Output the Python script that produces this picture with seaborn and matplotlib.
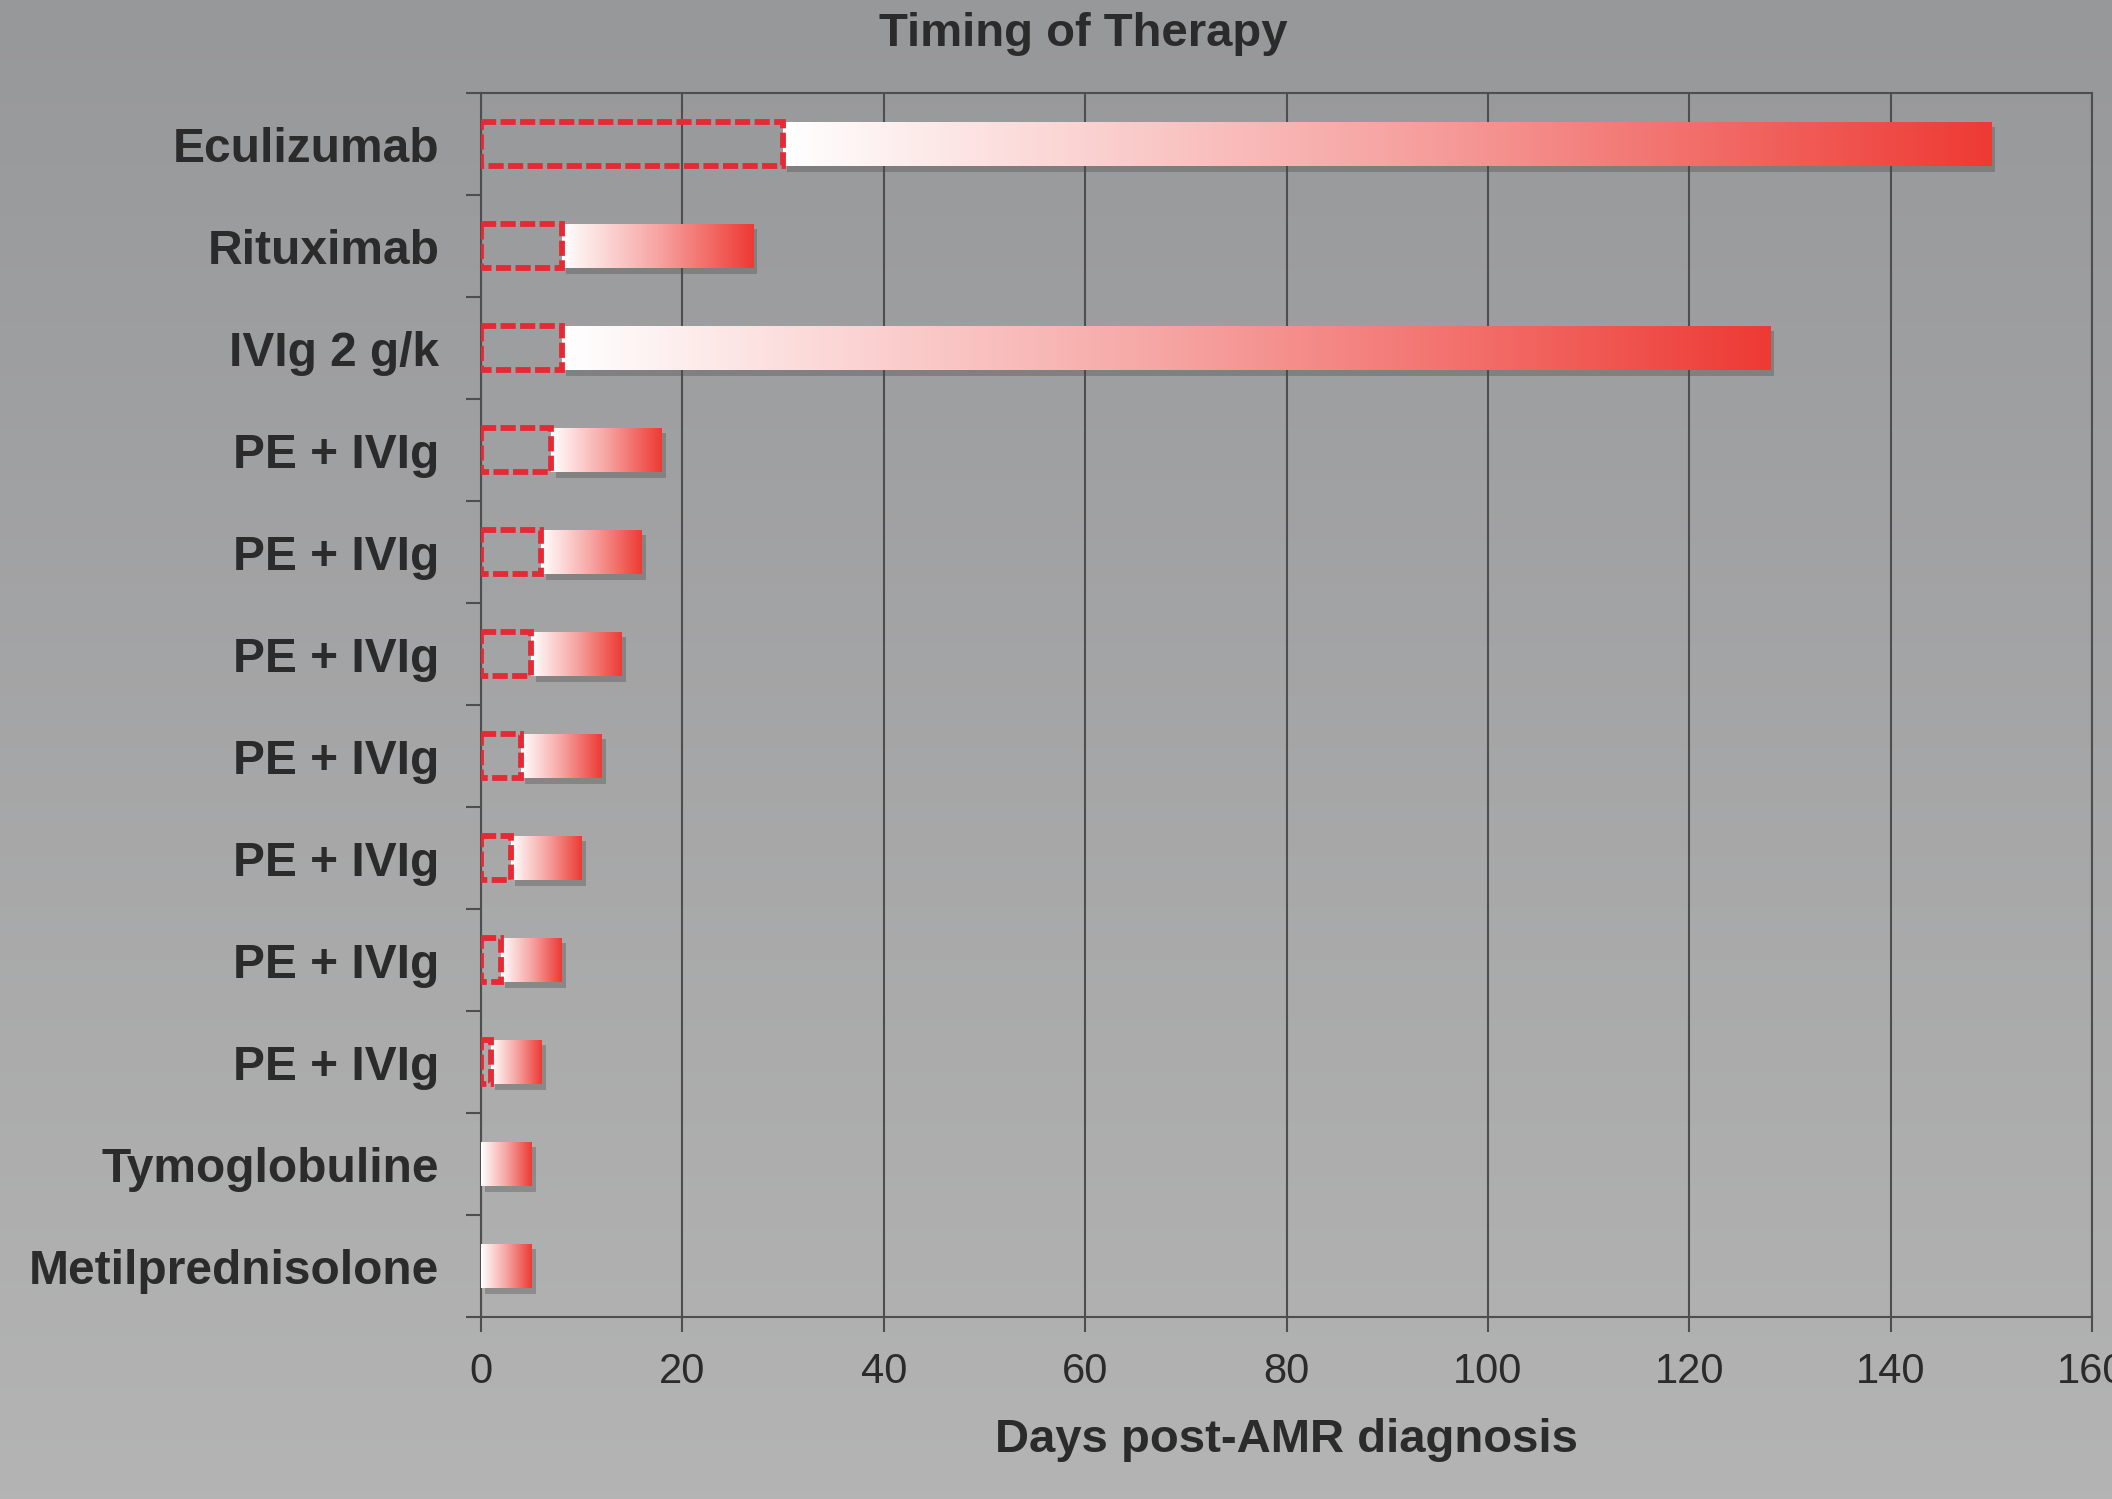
import numpy as np
import pandas as pd
import matplotlib
matplotlib.use("Agg")
import matplotlib.pyplot as plt
import seaborn as sns
from matplotlib.colors import LinearSegmentedColormap
from matplotlib import patheffects as pe

# Treatment rows, top to bottom
therapies = [
    "Eculizumab", "Rituximab", "IVIg 2 g/k",
    "PE + IVIg", "PE + IVIg", "PE + IVIg", "PE + IVIg",
    "PE + IVIg", "PE + IVIg", "PE + IVIg",
    "Tymoglobuline", "Metilprednisolone",
]
# Day the therapy started and day it ended (days post-AMR diagnosis)
start_day = [30, 8, 8, 7, 6, 5, 4, 3, 2, 1, 0, 0]
end_day = [150, 27, 128, 18, 16, 14, 12, 10, 8, 6, 5, 5]
x_ticks = [0, 20, 40, 60, 80, 100, 120, 140, 160]

title_text = "Timing of Therapy"
x_label = "Days post-AMR diagnosis"

sns.set_style("ticks")
plt.rcParams["font.family"] = ["Liberation Sans", "DejaVu Sans"]

TEXT = "#2b2b2b"
LINE = "#4e4e4e"
RED = "#ee3a34"
DASH_RED = "#e52a35"

df = pd.DataFrame({
    "row": [f"r{i}" for i in range(len(therapies))],
    "therapy": therapies,
    "start": start_day,
    "end": end_day,
})
df["duration"] = df["end"] - df["start"]
order = list(df["row"])

fig = plt.figure(figsize=(21.12, 14.99), dpi=100)

# grey vertical backdrop
bg = fig.add_axes([0, 0, 1, 1], zorder=-10)
bg_cmap = LinearSegmentedColormap.from_list("bg", ["#97989a", "#b4b4b4"])
bg.imshow(np.linspace(0, 1, 256).reshape(-1, 1), aspect="auto", cmap=bg_cmap,
          extent=(0, 1, 0, 1), origin="upper")
bg.set_axis_off()

ax = fig.add_axes([481 / 2112, 1 - 1317 / 1499, (2092 - 481) / 2112, (1317 - 93) / 1499])
ax.patch.set_alpha(0)

BAR_H = 0.44

# treatment period bars (start -> end)
sns.barplot(data=df, x="duration", y="row", order=order, orient="h",
            left=df["start"].to_numpy(), width=BAR_H, color=RED,
            errorbar=None, ax=ax, zorder=3, linewidth=0)
period_bars = list(ax.patches)

# waiting period before therapy (0 -> start), dashed outline
sns.barplot(data=df, x="start", y="row", order=order, orient="h",
            width=BAR_H, fill=False, color=DASH_RED, errorbar=None, ax=ax,
            linewidth=4.2, linestyle=(0, (2.6, 0.75)), zorder=5)
wait_bars = [p for p in ax.patches if p not in period_bars]
for p in wait_bars:
    if p.get_width() <= 0:
        p.set_visible(False)

# white -> red gradient fill with a soft drop shadow
grad_cmap = LinearSegmentedColormap.from_list("grad", ["#ffffff", "#f6a5a3", RED])
grad = np.linspace(0, 1, 256).reshape(1, -1)
for p in period_bars:
    x0, y0 = p.get_x(), p.get_y()
    w, h = p.get_width(), p.get_height()
    p.set_path_effects([pe.SimplePatchShadow(offset=(3, -4), shadow_rgbFace="#4a4a4a", alpha=0.35),
                        pe.Normal()])
    im = ax.imshow(grad, extent=(x0, x0 + w, y0 + h, y0), aspect="auto",
                   cmap=grad_cmap, interpolation="bilinear", zorder=4)
    im.set_clip_path(p)

ax.set_xlim(0, 160)
ax.set_ylim(len(therapies) - 0.5, -0.5)
ax.set_aspect("auto")

# grid and frame
ax.set_xticks(x_ticks)
ax.grid(axis="x", color=LINE, linewidth=1.5, zorder=1)
ax.grid(axis="y", visible=False)
ax.set_axisbelow(True)
for s in ax.spines.values():
    s.set_visible(True)
    s.set_color(LINE)
    s.set_linewidth(1.5)

ax.set_yticks(range(len(therapies)))
ax.set_yticklabels(therapies, fontsize=34.5, fontweight="bold", color=TEXT)
ax.set_yticks(np.arange(-0.5, len(therapies), 1), minor=True)
ax.tick_params(axis="y", which="major", length=0, pad=30)
ax.tick_params(axis="y", which="minor", length=11, width=1.5, color=LINE, direction="out")
ax.tick_params(axis="x", which="major", length=11, width=1.5, color=LINE, direction="out",
               pad=14, labelsize=30, labelcolor=TEXT)
ax.set_ylabel("")

ax.set_xlabel(x_label, fontsize=34, fontweight="bold", color=TEXT)
ax.xaxis.label.set_va("baseline")
ax.xaxis.set_label_coords(0.5, -(1452 - 1317) / 1224)

fig.text(1083 / 2112, 1 - 46 / 1499, title_text, ha="center", va="baseline",
         fontsize=34, fontweight="bold", color=TEXT)

fig.savefig("out.png", dpi=100)
